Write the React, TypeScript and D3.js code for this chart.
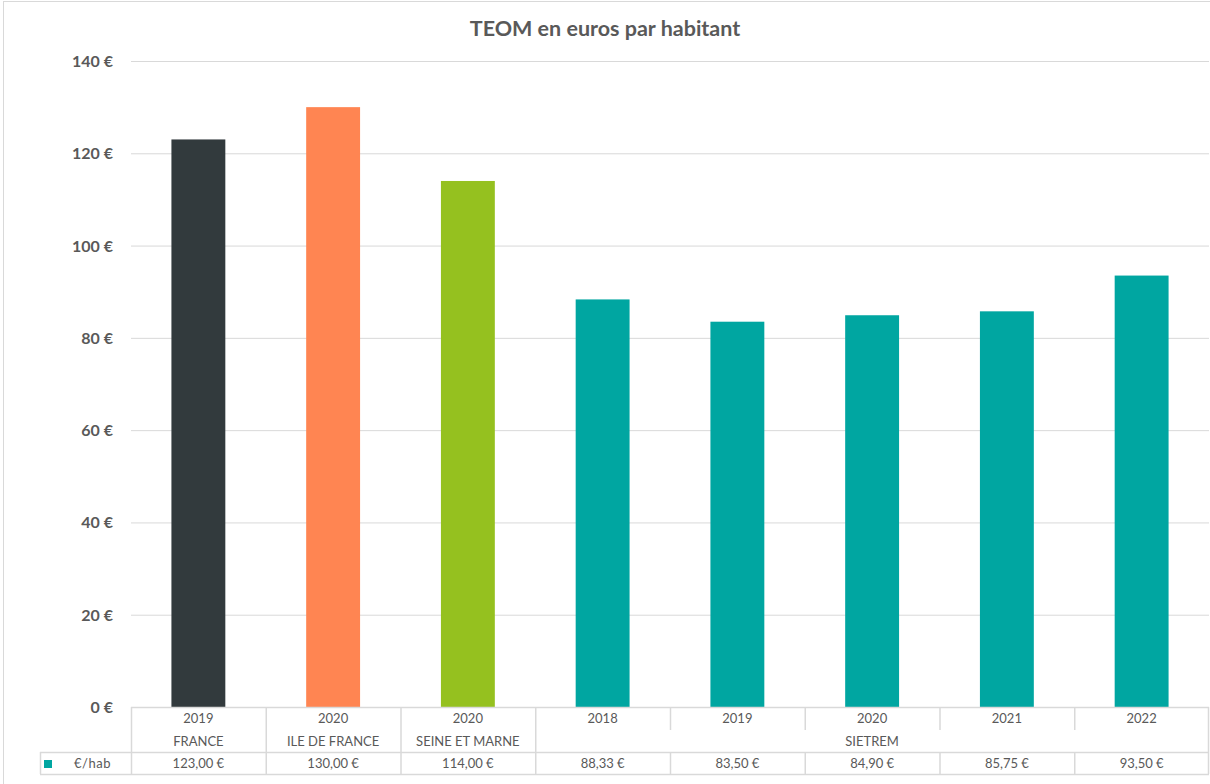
import React from "react";
import * as d3 from "d3";

const years = ["2019", "2020", "2020", "2018", "2019", "2020", "2021", "2022"];
const groups = ["FRANCE", "ILE DE FRANCE", "SEINE ET MARNE", "SIETREM", "SIETREM", "SIETREM", "SIETREM", "SIETREM"];
const values = [123.0, 130.0, 114.0, 88.33, 83.5, 84.9, 85.75, 93.5];
const colors = ["#323A3D", "#FF8552", "#95C11F", "#00A6A1", "#00A6A1", "#00A6A1", "#00A6A1", "#00A6A1"];
const yTicks = [0, 20, 40, 60, 80, 100, 120, 140];
const seriesName = "€/hab";
const title = "TEOM en euros par habitant";

const W = 1210, H = 784;
const plotLeft = 131, plotRight = 1209, plotTop = 61, plotBottom = 707;
const row1 = 730, row2 = 752, row3 = 774;
const txt = "#595959";
const grid = "#D9D9D9";
const font = "Lato, 'Open Sans', sans-serif";

const fr = d3.formatLocale({ decimal: ",", thousands: " ", grouping: [3], currency: ["", " €"] });
const fmtVal = fr.format("$.2f");

export default function App() {
  const idx = values.map((_, i) => String(i));
  const x = d3.scaleBand<string>().domain(idx).range([plotLeft, plotRight]).paddingInner(0).paddingOuter(0);
  const y = d3.scaleLinear().domain([0, 140]).range([plotBottom, plotTop]);
  const bw = x.bandwidth() * 0.4;

  const spans: { name: string; start: number; end: number }[] = [];
  groups.forEach((g, i) => {
    const last = spans[spans.length - 1];
    if (last && last.name === g) last.end = i;
    else spans.push({ name: g, start: i, end: i });
  });
  const groupStarts = new Set(spans.map((s) => s.start));

  return (
    <svg width={W} height={H} style={{ position: "absolute", left: 0, top: 0, background: "#fff" }} fontFamily={font}>
      <rect x={3.5} y={1.5} width={1240} height={800} fill="#fff" stroke={grid} />
      <text x={605} y={36} textAnchor="middle" fontSize={21.5} fontWeight="bold" fill={txt}>{title}</text>
      {yTicks.map((t) => (
        <g key={t}>
          {t > 0 && <line x1={plotLeft} x2={plotRight} y1={y(t) + 0.5} y2={y(t) + 0.5} stroke={grid} />}
          <text x={113} y={y(t) + 6} textAnchor="end" fontSize={16} fontWeight="bold" fill={txt}>{`${t} €`}</text>
        </g>
      ))}
      {values.map((v, i) => (
        <rect key={i} x={(x(String(i)) as number) + (x.bandwidth() - bw) / 2} y={y(v)} width={bw} height={y(0) - y(v)} fill={colors[i]} />
      ))}
      <line x1={plotLeft} x2={plotRight} y1={plotBottom + 0.5} y2={plotBottom + 0.5} stroke={grid} strokeWidth={1.5} />
      <line x1={40} x2={plotRight} y1={row2 + 0.5} y2={row2 + 0.5} stroke={grid} strokeWidth={1.5} />
      <line x1={40} x2={plotRight} y1={row3 + 0.5} y2={row3 + 0.5} stroke={grid} strokeWidth={1.5} />
      <line x1={40.5} x2={40.5} y1={row2} y2={row3} stroke={grid} strokeWidth={1.5} />
      {idx.map((k, i) => {
        const x0 = x(k) as number;
        const full = groupStarts.has(i);
        return (
          <g key={k}>
            <line x1={x0 + 0.5} x2={x0 + 0.5} y1={plotBottom} y2={full ? row3 : row1} stroke={grid} strokeWidth={1.5} />
            {!full && <line x1={x0 + 0.5} x2={x0 + 0.5} y1={row2} y2={row3} stroke={grid} strokeWidth={1.5} />}
            <text x={x0 + x.bandwidth() / 2} y={723} textAnchor="middle" fontSize={13} fill={txt}>{years[i]}</text>
            <text x={x0 + x.bandwidth() / 2} y={768} textAnchor="middle" fontSize={13} fill={txt}>{fmtVal(values[i])}</text>
          </g>
        );
      })}
      <line x1={plotRight - 0.5} x2={plotRight - 0.5} y1={plotBottom} y2={row3} stroke={grid} strokeWidth={1.5} />
      {spans.map((s) => {
        const x0 = x(String(s.start)) as number;
        const x1 = (x(String(s.end)) as number) + x.bandwidth();
        return (
          <text key={s.name} x={(x0 + x1) / 2} y={746} textAnchor="middle" fontSize={13} fill={txt}>{s.name}</text>
        );
      })}
      <rect x={44} y={760} width={8} height={8} fill={colors[3]} />
      <text x={74} y={768} fontSize={13} fill={txt} letterSpacing={0.5}>{seriesName}</text>
    </svg>
  );
}
